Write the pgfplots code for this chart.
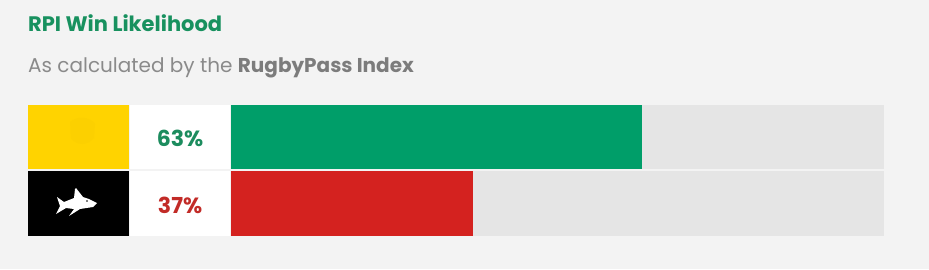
\documentclass[border=0pt]{standalone}
\usepackage{fontspec}
\setmainfont{Poppins}
\usepackage{pgfplots}
\usepackage{pgfplotstable}
\pgfplotsset{compat=1.18}

\definecolor{pagebg}{HTML}{F3F3F3}
\definecolor{titlegreen}{HTML}{18915F}
\definecolor{subgrey}{HTML}{8A8A8A}
\definecolor{subgreybold}{HTML}{7C7C7C}
\definecolor{track}{HTML}{E5E5E5}
\definecolor{homegreen}{HTML}{009E69}
\definecolor{homelabel}{HTML}{1C8C5E}
\definecolor{awayred}{HTML}{D4221F}
\definecolor{awaylabel}{HTML}{C22B27}
\definecolor{forceyellow}{HTML}{FFD300}
\definecolor{forcemark}{HTML}{FCD000}

% win likelihood (%) and row centre (px from top)
\pgfplotstableread{
row pct
137 63
}\homedata
\pgfplotstableread{
row pct
203.5 37
}\awaydata

\begin{document}
\begin{tikzpicture}[x=1pt,y=-1pt]
  \fill[pagebg] (0,0) rectangle (929,269);

  \node[anchor=base west, inner sep=0, text=titlegreen,
        font=\fontsize{21}{21}\selectfont\bfseries] at (28,31) {RPI Win Likelihood};
  \node[anchor=base west, inner sep=0, text=subgrey,
        font=\fontsize{20}{20}\selectfont] at (28,72)
        {As calculated by the \textcolor{subgreybold}{\bfseries RugbyPass Index}};

  % team badges
  \fill[forceyellow] (28,105) rectangle (129,169);
  \fill[forcemark] (70,122) .. controls (77,116) and (89,116) .. (95,124)
        -- (94,138) .. controls (87,146) and (77,146) .. (71,138) -- cycle;
  \fill[black] (28,171) rectangle (129,236);
  \fill[white] (97,203) -- (89,199) -- (83,197) -- (76,188) -- (75,189)
        -- (74,198) -- (64,202) -- (57,197) -- (60,206) -- (56,214)
        -- (66,208) -- (74,209) -- (69,216) -- (80,209) -- (93,207) -- cycle;
  \fill[black] (87,201) circle (0.9);

  % value cells
  \fill[white] (130,105) rectangle (230,169);
  \fill[white] (130,171) rectangle (230,236);

  \begin{axis}[
      at={(231pt,-236pt)}, anchor=south west,
      scale only axis, width=653pt, height=131pt,
      xmin=0, xmax=100, ymin=105, ymax=236, y dir=reverse,
      hide axis, clip=false,
      /pgf/number format/assume math mode=true,
      label style/.style={draw=none, mark=none,
        nodes near coords={\pgfmathprintnumber{\pgfplotspointmeta}\%},
        nodes near coords align=center,
        every node near coord/.append style={anchor=center, yshift=-1.5pt,
          font=\fontsize{22}{22}\selectfont\bfseries}},
    ]
    % tracks
    \addplot[xbar, fill=track, draw=none, bar width=64pt, bar shift=0pt]
      table[x expr=100, y=row]{\homedata};
    \addplot[xbar, fill=track, draw=none, bar width=65pt, bar shift=0pt]
      table[x expr=100, y=row]{\awaydata};
    % win likelihood bars
    \addplot[xbar, fill=homegreen, draw=none, bar width=64pt, bar shift=0pt]
      table[x=pct, y=row]{\homedata};
    \addplot[xbar, fill=awayred, draw=none, bar width=65pt, bar shift=0pt]
      table[x=pct, y=row]{\awaydata};
    % percentage labels in the value cells
    \addplot[label style, point meta=\thisrow{pct},
      every node near coord/.append style={text=homelabel}]
      table[x expr=-7.8, y=row]{\homedata};
    \addplot[label style, point meta=\thisrow{pct},
      every node near coord/.append style={text=awaylabel}]
      table[x expr=-7.8, y=row]{\awaydata};
  \end{axis}
\end{tikzpicture}
\end{document}
